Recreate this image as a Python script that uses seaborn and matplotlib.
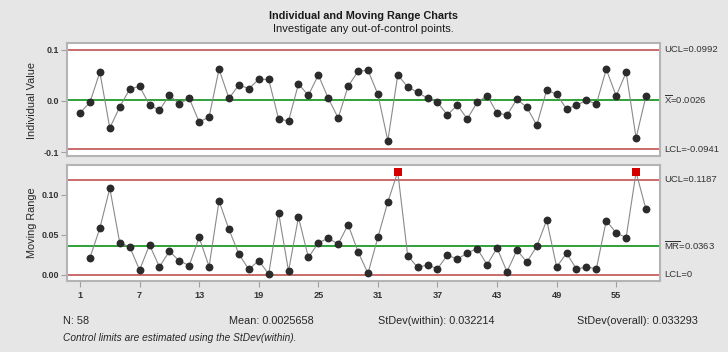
import numpy as np
import pandas as pd
import matplotlib
matplotlib.use("Agg")
import matplotlib.pyplot as plt
import seaborn as sns
from matplotlib.transforms import blended_transform_factory

# ---------------- data ----------------
observation = list(range(1, 59))
individual = [
    -0.0235, -0.0027, 0.0558, -0.0527, -0.0118, 0.0227, 0.0285, -0.0079, -0.0182, 0.0116,
    -0.0059, 0.0052, -0.0410, -0.0312, 0.0616, 0.0052, 0.0311, 0.0239, 0.0421, 0.0421,
    -0.0351, -0.0390, 0.0330, 0.0110, 0.0505, 0.0052, -0.0332, 0.0285, 0.0577, 0.0597,
    0.0129, -0.0774, 0.0505, 0.0272, 0.0168, 0.0052, -0.0027, -0.0274, -0.0079, -0.0351,
    -0.0027, 0.0103, -0.0235, -0.0274, 0.0032, -0.0124, -0.0474, 0.0213, 0.0129, -0.0157,
    -0.0085, 0.0013, -0.0059, 0.0616, 0.0096, 0.0558, -0.0721, 0.0096,
]
moving_range = [
    np.nan, 0.0215, 0.0583, 0.1082, 0.0402, 0.0352, 0.0062, 0.0375, 0.0101, 0.0295,
    0.0176, 0.0118, 0.0468, 0.0105, 0.0922, 0.0568, 0.0260, 0.0070, 0.0180, 0.0010,
    0.0777, 0.0048, 0.0720, 0.0218, 0.0400, 0.0458, 0.0385, 0.0628, 0.0290, 0.0020,
    0.0470, 0.0910, 0.1285, 0.0240, 0.0095, 0.0125, 0.0077, 0.0248, 0.0197, 0.0273,
    0.0330, 0.0128, 0.0337, 0.0040, 0.0310, 0.0162, 0.0356, 0.0684, 0.0100, 0.0270,
    0.0074, 0.0099, 0.0077, 0.0678, 0.0524, 0.0466, 0.1281, 0.0818,
]
ind_limits = {"UCL": 0.0992, "CL": 0.0026, "LCL": -0.0941}
mr_limits = {"UCL": 0.1187, "CL": 0.0363, "LCL": 0.0}
ind_labels = ["UCL=0.0992", r"$\overline{\mathrm{X}}$=0.0026", "LCL=-0.0941"]
mr_labels = ["UCL=0.1187", r"$\overline{\mathrm{MR}}$=0.0363", "LCL=0"]
x_ticks = [1, 7, 13, 19, 25, 31, 37, 43, 49, 55]
ind_yticks = [-0.1, 0.0, 0.1]
ind_yticklabels = ["-0.1", "0.0", "0.1"]
mr_yticks = [0.0, 0.05, 0.10]
mr_yticklabels = ["0.00", "0.05", "0.10"]
footer = [("N: 58", 63), ("Mean: 0.0025658", 229),
          ("StDev(within): 0.032214", 378), ("StDev(overall): 0.033293", 577)]

df = pd.DataFrame({"obs": observation, "ind": individual, "mr": moving_range})

# ---------------- style ----------------
sns.set_theme(style="white")
plt.rcParams["font.family"] = ["Liberation Sans", "DejaVu Sans"]
plt.rcParams["mathtext.fontset"] = "custom"
plt.rcParams["mathtext.rm"] = "Liberation Sans"
plt.rcParams["mathtext.it"] = "Liberation Sans:italic"

BG = "#e6e6e6"
RED_LINE = "#c4615f"
GREEN = "#1f9a2a"
PT = "#2b2b2b"
CONN = "#8a8a8a"
BORDER = "#b4b4b4"
TXT = "#262626"

W, H = 728, 352
fig = plt.figure(figsize=(W / 100, H / 100), dpi=100, facecolor=BG)

def px_axes(x0, y0, x1, y1):
    return fig.add_axes([x0 / W, 1 - y1 / H, (x1 - x0) / W, (y1 - y0) / H])

ax1 = px_axes(67, 43, 660, 156)
ax2 = px_axes(67, 164.5, 660, 281)

xlim = (-0.31, 59.41)

def draw(ax, col, limits, labels, ylim, yticks, yticklabels):
    ax.set_facecolor("white")
    for v, c in [(limits["UCL"], RED_LINE), (limits["LCL"], RED_LINE), (limits["CL"], GREEN)]:
        ax.axhline(v, color=c, lw=1.3, zorder=1)
    sns.lineplot(data=df, x="obs", y=col, ax=ax, color=CONN, lw=0.8, zorder=2)
    ooc = df[col] > limits["UCL"]
    sns.scatterplot(data=df[~ooc], x="obs", y=col, ax=ax, color=PT, s=32,
                    edgecolor=PT, linewidth=0, zorder=3)
    if ooc.any():
        sns.scatterplot(data=df[ooc], x="obs", y=col, ax=ax, color="#d40000", s=34,
                        marker="s", edgecolor="#d40000", linewidth=0, zorder=4)
    ax.set_xlim(*xlim)
    ax.set_ylim(*ylim)
    ax.set_yticks(yticks)
    ax.set_yticklabels(yticklabels)
    ax.set_xlabel("")
    ax.set_ylabel("")
    for s in ax.spines.values():
        s.set_color(BORDER)
        s.set_linewidth(1.5)
    ax.tick_params(axis="y", length=4, width=0.8, color="#a0a0a0", labelsize=6.4,
                   labelcolor="#333333", pad=2, left=True)
    for t in ax.get_yticklabels():
        t.set_fontweight("bold")
    tr = blended_transform_factory(ax.transAxes, ax.transData)
    for v, lab in zip([limits["UCL"], limits["CL"], limits["LCL"]], labels):
        ax.text(1.0067, v, lab, transform=tr, ha="left", va="center",
                fontsize=6.8, color="#333333")

draw(ax1, "ind", ind_limits, ind_labels, (-0.1072, 0.1128), ind_yticks, ind_yticklabels)
draw(ax2, "mr", mr_limits, mr_labels, (-0.0075, 0.1377), mr_yticks, mr_yticklabels)

ax1.set_xticks([])
ax2.set_xticks(x_ticks)
ax2.set_xticklabels([str(t) for t in x_ticks])
ax2.tick_params(axis="x", length=4, width=0.8, color="#a0a0a0", labelsize=6.6,
                labelcolor="#333333", pad=3, bottom=True)
for t in ax2.get_xticklabels():
    t.set_fontweight("bold")

# axis titles
fig.text(32 / W, 1 - 100 / H, "Individual Value", rotation=90, ha="center", va="center",
         fontsize=7.8, color=TXT)
fig.text(32 / W, 1 - 223 / H, "Moving Range", rotation=90, ha="center", va="center",
         fontsize=7.8, color=TXT)

# titles
fig.text(363.5 / W, 1 - 16 / H, "Individual and Moving Range Charts", ha="center",
         va="center", fontsize=7.8, fontweight="bold", color="#1a1a1a")
fig.text(363.5 / W, 1 - 29 / H, "Investigate any out-of-control points.", ha="center",
         va="center", fontsize=8.0, color="#1a1a1a")

# footer
for txt, xp in footer:
    fig.text(xp / W, 1 - 320.7 / H, txt, ha="left", va="center", fontsize=7.8, color=TXT)
fig.text(62.7 / W, 1 - 338.3 / H, "Control limits are estimated using the StDev(within).",
         ha="left", va="center", fontsize=7.3, style="italic", color=TXT)

fig.savefig("out.png", dpi=100, facecolor=BG)
